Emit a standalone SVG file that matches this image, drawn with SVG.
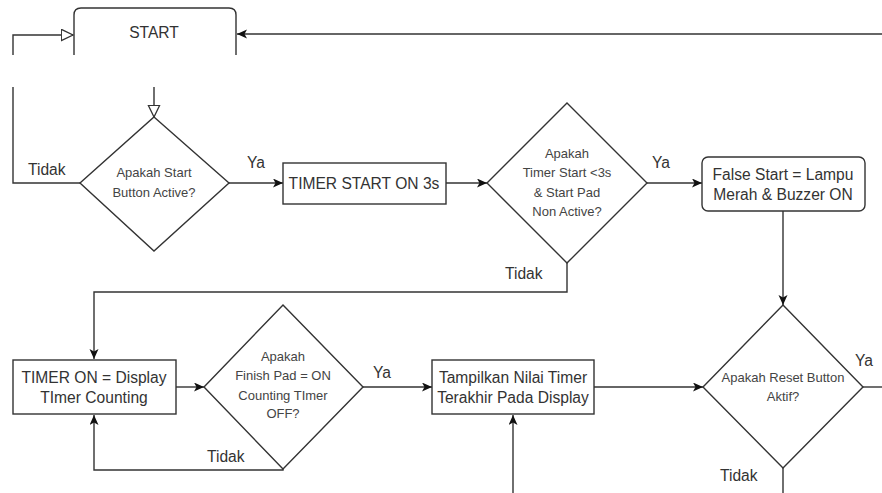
<svg xmlns="http://www.w3.org/2000/svg" width="882" height="493" viewBox="0 0 882 493">
<defs>
<style>
.ln{fill:none;stroke:#333;stroke-width:1.4}
.sh{fill:#fff;stroke:#333;stroke-width:1.4}
.t{font-family:"Liberation Sans",Arial,sans-serif;font-size:15.6px;fill:#333;text-anchor:middle}
.s{font-family:"Liberation Sans",Arial,sans-serif;font-size:13px;fill:#444;text-anchor:middle}
.lb{font-family:"Liberation Sans",Arial,sans-serif;font-size:15.6px;fill:#333}
</style>
<marker id="fa" markerUnits="userSpaceOnUse" markerWidth="12" markerHeight="10" refX="10" refY="4.5" orient="auto">
<path d="M0,0 L10,4.5 L0,9 L2.5,4.5 Z" fill="#111"/>
</marker>
<marker id="oa" markerUnits="userSpaceOnUse" markerWidth="14" markerHeight="14" refX="12.5" refY="6.5" orient="auto">
<path d="M0.8,0.8 L12.5,6.5 L0.8,12.2 Z" fill="#fff" stroke="#333" stroke-width="1.3"/>
</marker>
</defs>
<g id="connectors">
<path class="ln" d="M80,183 H13 V87"/>
<path class="ln" d="M13,55 V35 H73" marker-end="url(#oa)"/>
<path class="ln" d="M154,87 V117" marker-end="url(#oa)"/>
<path class="ln" d="M882,34 H237" marker-end="url(#fa)"/>
<path class="ln" d="M229,183 H283" marker-end="url(#fa)"/>
<path class="ln" d="M446,183 H487" marker-end="url(#fa)"/>
<path class="ln" d="M647,183 H702" marker-end="url(#fa)"/>
<path class="ln" d="M567,263 V292 H94 V359" marker-end="url(#fa)"/>
<path class="ln" d="M783,211 V305" marker-end="url(#fa)"/>
<path class="ln" d="M176,387 H204" marker-end="url(#fa)"/>
<path class="ln" d="M363,387 H432" marker-end="url(#fa)"/>
<path class="ln" d="M283,469 V470 H94 V415" marker-end="url(#fa)"/>
<path class="ln" d="M594,387 H703" marker-end="url(#fa)"/>
<path class="ln" d="M513,493 V415" marker-end="url(#fa)"/>
<path class="ln" d="M863,387 H882"/>
<path class="ln" d="M783,468 V493"/>
<text class="lb" x="28" y="175">Tidak</text>
<text class="lb" x="247" y="168">Ya</text>
<text class="lb" x="505" y="279">Tidak</text>
<text class="lb" x="652" y="168">Ya</text>
<text class="lb" x="207" y="462">Tidak</text>
<text class="lb" x="373" y="378">Ya</text>
<text class="lb" x="855" y="366">Ya</text>
<text class="lb" x="720" y="481">Tidak</text>
</g>
<g id="start">
<path class="sh" d="M74,55 V15 Q74,8 81,8 H229 Q236,8 236,15 V55" fill="none"/>
<text class="t" x="154" y="38">START</text>
</g>
<g id="d1">
<polygon class="sh" points="154,117 229,183 154,251 80,183"/>
<text class="s" x="154" y="177">Apakah Start</text>
<text class="s" x="154" y="197">Button Active?</text>
</g>
<g id="timerstart">
<rect class="sh" x="283" y="163" width="163" height="41"/>
<text class="t" x="364" y="189">TIMER START ON 3s</text>
</g>
<g id="d2">
<polygon class="sh" points="567,103 647,183 567,263 487,183"/>
<text class="s" x="567" y="158">Apakah</text>
<text class="s" x="567" y="177">Timer Start &lt;3s</text>
<text class="s" x="567" y="197">&amp; Start Pad</text>
<text class="s" x="567" y="216">Non Active?</text>
</g>
<g id="falsestart">
<rect class="sh" x="702" y="157" width="163" height="54" rx="6"/>
<text class="t" x="783" y="180">False Start = Lampu</text>
<text class="t" x="783" y="200">Merah &amp; Buzzer ON</text>
</g>
<g id="timeron">
<rect class="sh" x="13" y="360" width="163" height="54"/>
<text class="t" x="94" y="383">TIMER ON = Display</text>
<text class="t" x="94" y="403">TImer Counting</text>
</g>
<g id="d4">
<polygon class="sh" points="283,305 363,387 283,469 204,387"/>
<text class="s" x="283" y="361">Apakah</text>
<text class="s" x="283" y="380">Finish Pad = ON</text>
<text class="s" x="283" y="400">Counting TImer</text>
<text class="s" x="283" y="418">OFF?</text>
</g>
<g id="tampilkan">
<rect class="sh" x="432" y="360" width="162" height="54"/>
<text class="t" x="513" y="383">Tampilkan Nilai Timer</text>
<text class="t" x="513" y="403">Terakhir Pada Display</text>
</g>
<g id="d3">
<polygon class="sh" points="783,305 863,387 783,468 703,387"/>
<text class="s" x="783" y="382">Apakah Reset Button</text>
<text class="s" x="783" y="401">Aktif?</text>
</g>
</svg>
